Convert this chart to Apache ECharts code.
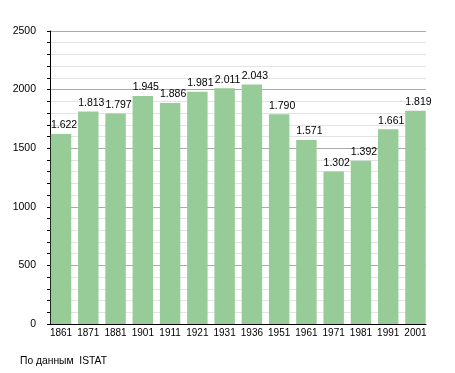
<!DOCTYPE html>
<html>
<head>
<meta charset="utf-8">
<script src="https://cdn.jsdelivr.net/npm/echarts@6/dist/echarts.min.js"></script>
<style>html,body{margin:0;padding:0;background:#fff}#c{width:455px;height:373px}</style>
</head>
<body>
<div id="c"></div>
<script>
const years = ['1861','1871','1881','1901','1911','1921','1931','1936','1951','1961','1971','1981','1991','2001'];
const population = [1622,1813,1797,1945,1886,1981,2011,2043,1790,1571,1302,1392,1661,1819];
const yTicks = [0,500,1000,1500,2000,2500];
const footnote = 'По данным  ISTAT';

const FONT = 'Liberation Sans, Arial, sans-serif';
const chart = echarts.init(document.getElementById('c'), null, {renderer:'canvas'});
chart.setOption({
  animation:false,
  backgroundColor:'#fff',
  grid:[
    {left:50, right:29, top:31, bottom:49},
    {left:47.4, right:25.9, top:31, bottom:49}
  ],
  xAxis:[
    {gridIndex:0, type:'category', data:years, axisLabel:{show:false}, axisTick:{show:false},
     axisLine:{show:true, lineStyle:{color:'#000', width:1}}, splitLine:{show:false}, z:5},
    {gridIndex:1, type:'category', data:years, axisLine:{show:false}, axisTick:{show:false},
     axisLabel:{margin:4, fontSize:10, color:'#000', fontFamily:FONT, interval:0}}
  ],
  yAxis:[
    {gridIndex:0, type:'value', min:yTicks[0], max:yTicks[yTicks.length-1], interval:500,
     axisLine:{show:true, lineStyle:{color:'#000', width:1}},
     axisTick:{show:true, length:3, lineStyle:{color:'#000'}},
     minorTick:{show:true, splitNumber:5, length:3, lineStyle:{color:'#000'}},
     splitLine:{show:true, lineStyle:{color:'#aaaaaa', width:1}},
     minorSplitLine:{show:true, lineStyle:{color:'#e3e3e3', width:1}},
     axisLabel:{margin:14, fontSize:10.5, color:'#000', fontFamily:FONT, formatter:v=>String(v)}},
    {gridIndex:1, type:'value', min:yTicks[0], max:yTicks[yTicks.length-1], show:false, splitLine:{show:false}}
  ],
  series:[{
    type:'bar', xAxisIndex:1, yAxisIndex:1, data:population, barCategoryGap:'25%',
    itemStyle:{color:'#97cb97'},
    label:{show:true, position:'top', distance:3, offset:[3,0], fontSize:10.5, color:'#000', fontFamily:FONT,
      formatter:p=>{const s=String(p.value);return s.length>3?s.slice(0,s.length-3)+'.'+s.slice(-3):s;}}
  }],
  graphic:[{type:'text', left:20, top:356, style:{text:footnote, fontSize:10.3, fill:'#000', fontFamily:FONT}}]
});
</script>
</body>
</html>
